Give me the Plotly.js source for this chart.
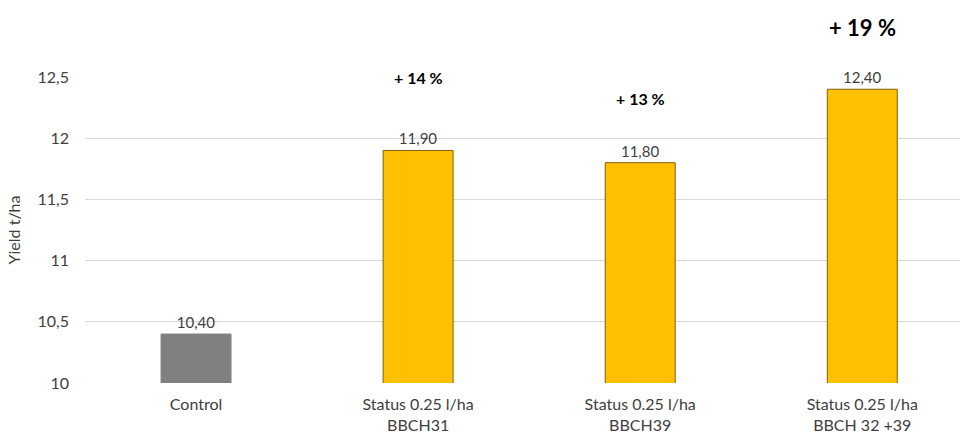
<!DOCTYPE html>
<html>
<head>
<meta charset="utf-8">
<script src="https://cdn.plot.ly/plotly-3.0.1.min.js"></script>
<style>html,body{margin:0;padding:0;background:#fff;}#chart{width:960px;height:439px;}</style>
</head>
<body>
<div id="chart"></div>
<script>
const categories = ["Control", "Status 0.25 l/ha<br>BBCH31", "Status 0.25 l/ha<br>BBCH39", "Status 0.25 l/ha<br>BBCH 32 +39"];
const yieldValues = [10.40, 11.90, 11.80, 12.40];
const barColors = ["#808080", "#FFC000", "#FFC000", "#FFC000"];
const barLines = ["#808080", "#7F6000", "#7F6000", "#7F6000"];
const increaseLabels = ["+ 14 %", "+ 13 %", "+ 19 %"];
const yTicks = [10, 10.5, 11, 11.5, 12, 12.5];

const font = "Lato, 'Open Sans', sans-serif";

const trace = {
  type: "bar",
  x: [0, 1, 2, 3],
  y: yieldValues,
  base: 0,
  marker: {color: barColors, line: {color: barLines, width: 1}},
  width: 0.315,
  texttemplate: "%{y:.2f}",
  textposition: "outside",
  cliponaxis: false,
  textfont: {family: font, size: 15, color: "#404040"},
  hoverinfo: "skip"
};

const annPos = [
  {x: 1, y: 0.997, size: 16},
  {x: 2, y: 0.931, size: 16},
  {x: 3, y: 1.163, size: 22}
];
const annotations = increaseLabels.map((t, i) => ({
  x: annPos[i].x, y: annPos[i].y, xref: "x", yref: "paper",
  text: "<b>" + t + "</b>", showarrow: false,
  font: {family: font, size: annPos[i].size, color: "#000"},
  xanchor: "center", yanchor: "middle"
}));

const layout = {
  width: 960, height: 439,
  margin: {l: 85, r: 0, t: 77, b: 56},
  paper_bgcolor: "#fff", plot_bgcolor: "#fff",
  separators: ",.",
  showlegend: false,
  font: {family: font, size: 16, color: "#404040"},
  xaxis: {
    range: [-0.5, 3.44],
    tickmode: "array", tickvals: [0, 1, 2, 3], ticktext: categories,
    showgrid: false, zeroline: false, showline: false,
    ticks: "", ticklabelstandoff: 10,
    tickfont: {family: font, size: 16, color: "#404040"},
    fixedrange: true
  },
  yaxis: {
    range: [10, 12.5],
    tickmode: "array", tickvals: yTicks,
    showgrid: true, gridcolor: "#d9d9d9", gridwidth: 1,
    zeroline: false, showline: false, ticks: "",
    ticklabelstandoff: 15,
    tickfont: {family: font, size: 16, color: "#404040"},
    title: {text: "Yield t/ha", font: {family: font, size: 16, color: "#404040"}, standoff: 12},
    fixedrange: true
  },
  annotations: annotations
};

Plotly.newPlot("chart", [trace], layout, {displayModeBar: false, staticPlot: true});
</script>
</body>
</html>
